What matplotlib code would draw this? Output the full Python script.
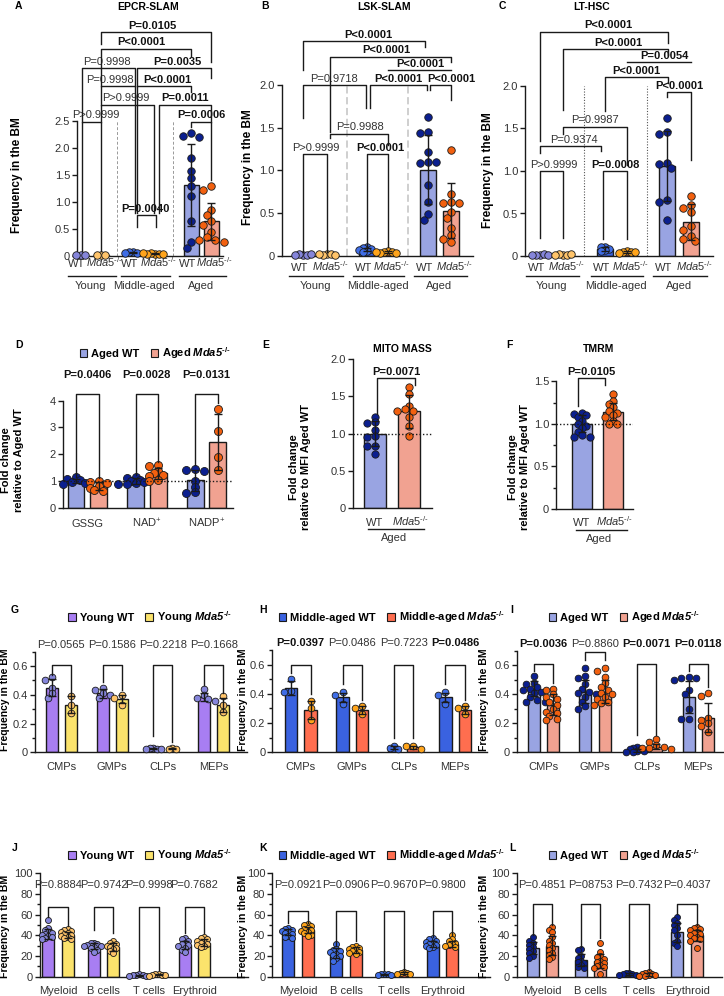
import numpy as np
import matplotlib
matplotlib.use('Agg')
import matplotlib.pyplot as plt
from matplotlib.patches import Patch
from matplotlib.ticker import MultipleLocator

plt.rcParams['font.family'] = 'Liberation Sans'
plt.rcParams['mathtext.fontset'] = 'custom'
plt.rcParams['mathtext.rm'] = 'Liberation Sans'
plt.rcParams['mathtext.it'] = 'Liberation Sans:italic'
plt.rcParams['mathtext.bf'] = 'Liberation Sans:bold'
plt.rcParams['mathtext.bfit'] = 'Liberation Sans:italic:bold'

# ---------------- data ----------------
# A-C: order = Young WT, Young Mda5, Middle-aged WT, Middle-aged Mda5, Aged WT, Aged Mda5
a_means = [0.01, 0.01, 0.06, 0.04, 1.31, 0.64]
a_sd = [0, 0, 0.01, 0.01, 0.76, 0.35]
a_pts = [[0.01, 0.01, 0.02], [0.01, 0.02, 0.01], [0.08, 0.07, 0.05, 0.06],
         [0.04, 0.05, 0.04, 0.03, 0.04, 0.05],
         [2.28, 2.22, 2.20, 1.82, 1.58, 1.45, 1.30, 1.12, 0.65, 0.25, 0.15],
         [1.30, 1.22, 0.86, 0.75, 0.65, 0.58, 0.45, 0.35, 0.30, 0.30, 0.26]]
a_pvals = ['P>0.9999', 'P=0.0040', 'P=0.0006', 'P>0.9999', 'P=0.0011', 'P=0.9998',
           'P<0.0001', 'P=0.9998', 'P=0.0035', 'P<0.0001', 'P=0.0105']

b_means = [0.01, 0.015, 0.075, 0.05, 1.01, 0.53]
b_sd = [0, 0, 0.02, 0.01, 0.40, 0.32]
b_pts = [[0.01, 0.02, 0.01, 0.01, 0.02], [0.02, 0.01, 0.02, 0.02, 0.01],
         [0.10, 0.09, 0.08, 0.07, 0.06, 0.05], [0.06, 0.05, 0.05, 0.04, 0.04, 0.05],
         [1.62, 1.45, 1.44, 1.22, 1.10, 1.09, 1.10, 0.83, 0.63, 0.49, 0.42],
         [1.24, 0.72, 0.63, 0.62, 0.62, 0.52, 0.45, 0.33, 0.25, 0.20, 0.16]]
b_pvals = ['P>0.9999', 'P<0.0001', 'P=0.9988', 'P=0.9718', 'P<0.0001', 'P<0.0001',
           'P<0.0001', 'P<0.0001', 'P<0.0001']

c_means = [0.01, 0.01, 0.08, 0.05, 1.06, 0.40]
c_sd = [0, 0, 0.02, 0.01, 0.41, 0.21]
c_pts = [[0.01, 0.01, 0.02, 0.01, 0.01], [0.01, 0.02, 0.01, 0.01, 0.02],
         [0.11, 0.10, 0.08, 0.07, 0.06], [0.06, 0.05, 0.05, 0.04, 0.05],
         [1.62, 1.46, 1.44, 1.09, 1.08, 1.03, 0.66, 0.64, 0.42],
         [0.70, 0.60, 0.56, 0.52, 0.35, 0.30, 0.24, 0.20, 0.18]]
c_pvals = ['P>0.9999', 'P=0.0008', 'P=0.9374', 'P=0.9987', 'P<0.0001', 'P<0.0001',
           'P=0.0054', 'P<0.0001', 'P<0.0001']

# D: GSSG, NAD+, NADP+ (WT, Mda5 alternating)
d_means = [1.0, 0.81, 1.0, 1.28, 1.02, 2.46]
d_sd = [0.09, 0.15, 0.1, 0.22, 0.38, 1.05]
d_pts = [[1.15, 1.08, 1.02, 0.96, 0.92, 0.90],
         [0.98, 0.95, 0.92, 0.80, 0.75, 0.65, 0.62],
         [1.15, 1.10, 1.05, 1.00, 0.95, 0.92, 0.90, 0.88],
         [1.58, 1.55, 1.38, 1.28, 1.22, 1.18, 1.05, 0.98],
         [1.45, 1.40, 1.38, 1.00, 0.78, 0.58, 0.55],
         [3.70, 2.85, 1.90, 1.40]]
d_pvals = ['P=0.0406', 'P=0.0028', 'P=0.0131']

e_means = [1.0, 1.30]
e_sd = [0.17, 0.22]
e_pts = [[1.23, 1.16, 1.15, 1.05, 0.97, 0.95, 0.84, 0.83, 0.73],
         [1.62, 1.53, 1.37, 1.33, 1.30, 1.30, 1.22, 1.10, 0.97]]

f_means = [1.0, 1.14]
f_sd = [0.10, 0.10]
f_pts = [[1.13, 1.12, 1.10, 1.08, 1.03, 1.00, 0.98, 0.95, 0.90, 0.87, 0.85, 0.85],
         [1.35, 1.27, 1.23, 1.20, 1.15, 1.13, 1.10, 1.08, 1.03, 1.00, 1.00]]

prog_cells = ['CMPs', 'GMPs', 'CLPs', 'MEPs']
g_wt_means = [0.45, 0.41, 0.025, 0.385]
g_wt_sd = [0.06, 0.03, 0.005, 0.03]
g_mda_means = [0.33, 0.37, 0.025, 0.33]
g_mda_sd = [0.06, 0.03, 0.005, 0.05]
g_wt_pts = [[0.52, 0.50, 0.45, 0.41, 0.38], [0.45, 0.43, 0.41, 0.40, 0.38],
            [0.03, 0.03, 0.025, 0.02, 0.02], [0.44, 0.40, 0.38, 0.37, 0.36]]
g_mda_pts = [[0.39, 0.33, 0.27], [0.40, 0.38, 0.33], [0.03, 0.025, 0.02], [0.39, 0.33, 0.28]]
g_pvals = ['P=0.0565', 'P=0.1586', 'P=0.2218', 'P=0.1668']
g_bold = [False, False, False, False]

h_wt_means = [0.44, 0.375, 0.03, 0.375]
h_wt_sd = [0.05, 0.03, 0.01, 0.03]
h_mda_means = [0.29, 0.29, 0.035, 0.29]
h_mda_sd = [0.06, 0.03, 0.01, 0.03]
h_wt_pts = [[0.50, 0.42, 0.41], [0.41, 0.39, 0.33], [0.04, 0.03, 0.02], [0.41, 0.39, 0.33]]
h_mda_pts = [[0.35, 0.30, 0.22], [0.32, 0.30, 0.26], [0.045, 0.04, 0.025], [0.32, 0.30, 0.26]]
h_pvals = ['P=0.0397', 'P=0.0486', 'P=0.7223', 'P=0.0486']
h_bold = [True, False, False, True]

i_wt_means = [0.44, 0.42, 0.015, 0.38]
i_wt_sd = [0.05, 0.08, 0.01, 0.11]
i_mda_means = [0.33, 0.42, 0.04, 0.24]
i_mda_sd = [0.07, 0.08, 0.02, 0.10]
i_wt_pts = [[0.53, 0.48, 0.47, 0.45, 0.44, 0.43, 0.42, 0.41, 0.38, 0.36, 0.35, 0.35],
            [0.58, 0.53, 0.51, 0.47, 0.44, 0.42, 0.41, 0.40, 0.38, 0.35, 0.32, 0.30],
            [0.04, 0.03, 0.02, 0.02, 0.01, 0.01, 0.005, 0.005],
            [0.52, 0.51, 0.51, 0.50, 0.43, 0.40, 0.30, 0.23, 0.23]]
i_mda_pts = [[0.44, 0.43, 0.40, 0.38, 0.37, 0.35, 0.33, 0.30, 0.28, 0.27, 0.25, 0.23, 0.22],
             [0.58, 0.56, 0.52, 0.48, 0.45, 0.43, 0.41, 0.40, 0.38, 0.37, 0.35, 0.34, 0.33],
             [0.09, 0.07, 0.05, 0.04, 0.03, 0.03, 0.02],
             [0.41, 0.39, 0.24, 0.22, 0.20, 0.18, 0.14]]
i_pvals = ['P=0.0036', 'P=0.8860', 'P=0.0071', 'P=0.0118']
i_bold = [True, False, True, True]

lin_cells = ['Myeloid', 'B cells', 'T cells', 'Erythroid']
j_wt_means = [41, 30, 1.5, 31]
j_wt_sd = [5, 3, 0.5, 4]
j_mda_means = [40, 29, 1.8, 33]
j_mda_sd = [3, 4, 0.5, 3]
j_wt_pts = [[55, 47, 45, 43, 42, 41, 40, 39, 38, 37, 36], [33, 33, 32, 31, 30, 30, 29, 28, 26, 24],
            [2.5, 2, 1.5, 1.5, 1, 1], [37, 36, 35, 33, 32, 31, 30, 28, 26, 24]]
j_mda_pts = [[46, 45, 44, 43, 42, 41, 40, 39, 38, 37, 36], [35, 33, 32, 31, 30, 29, 28, 27, 25, 23],
             [2.5, 2.2, 2, 1.5, 1.5, 1], [38, 37, 36, 35, 34, 33, 32, 31, 30, 29]]
j_pvals = ['P=0.8884', 'P=0.9742', 'P=0.9998', 'P=0.7682']

k_wt_means = [43, 23, 2.5, 32]
k_wt_sd = [3, 5, 0.5, 3]
k_mda_means = [45, 26, 3.5, 32]
k_mda_sd = [3, 3, 1, 3]
k_wt_pts = [[47, 46, 45, 44, 43, 42, 41, 39, 38, 37], [32, 27, 26, 25, 24, 22, 21, 20, 18, 15],
            [3, 3, 2.5, 2, 2], [37, 36, 35, 34, 33, 32, 31, 30, 29, 28]]
k_mda_pts = [[51, 50, 49, 47, 46, 45, 44, 43, 42, 40, 39], [30, 29, 28, 27, 26, 25, 24, 23, 22],
             [5, 4, 3.5, 3, 2.5], [40, 36, 35, 33, 32, 31, 30, 29]]
k_pvals = ['P=0.0921', 'P=0.0906', 'P=0.9670', 'P=0.9800']

l_wt_means = [28, 16, 2.5, 43]
l_wt_sd = [6, 6, 1, 9]
l_mda_means = [30, 15, 2.5, 40]
l_mda_sd = [9, 7, 1.5, 5]
l_wt_pts = [[38, 35, 33, 31, 29, 27, 25, 23, 20, 18], [27, 26, 20, 18, 15, 14, 13, 11, 9, 8],
            [4, 3.5, 3, 2.5, 2, 1.5, 1], [58, 55, 52, 50, 47, 45, 40, 35, 33, 30]]
l_mda_pts = [[48, 45, 43, 38, 35, 33, 31, 28, 26, 23, 21, 19, 17],
             [33, 24, 20, 19, 17, 15, 14, 13, 11, 10, 9, 8, 3],
             [5, 4, 3, 2.5, 2, 1.5, 1, 0.5], [48, 47, 46, 45, 43, 42, 41, 40, 38, 37, 36, 35, 28]]
l_pvals = ['P=0.4851', 'P=08753', 'P=0.7432', 'P=0.4037']

# ---------------- style ----------------
W, H = 724, 996
INK = '#1a1a1a'
GREY = '#333333'
YOUNG = ('#a87ef2', '#8585da', '#fbe36c', '#ffc46a')   # wt bar, wt dot, ko bar, ko dot
MID = ('#3a62e0', '#3f6de6', '#ff6e4f', '#ffa41b')
AGED = ('#99a4e2', '#0b1f8f', '#f1a291', '#f2600f')
MDA = '$\\mathit{Mda5}^{\u2010/\u2010}$'
MDA_B = '$\\mathbfit{Mda5}^{\\mathbf{\u2010/\u2010}}$'

fig = plt.figure(figsize=(W / 100, H / 100), dpi=100)


def ftext(x, y, s, **kw):
    kw.setdefault('ha', 'center')
    kw.setdefault('va', 'center')
    return fig.text(x / W, 1 - y / H, s, **kw)


def add_ax(x0, x1, ytop, yzero, xlim, ylim):
    ax = fig.add_axes([x0 / W, 1 - yzero / H, (x1 - x0) / W, (yzero - ytop) / H])
    ax.set_xlim(*xlim)
    ax.set_ylim(*ylim)
    ax.patch.set_alpha(0)
    for s in ['top', 'right']:
        ax.spines[s].set_visible(False)
    for s in ['left', 'bottom']:
        ax.spines[s].set_linewidth(1)
        ax.spines[s].set_color(INK)
    ax.tick_params(axis='y', which='major', length=3.5, width=1, color=INK,
                   labelsize=8, labelcolor=GREY, pad=1.5)
    ax.tick_params(axis='y', which='minor', length=2, width=1, color=INK)
    ax.tick_params(axis='x', length=0, labelsize=8, labelcolor=GREY)
    return ax


def xlabels(ax, ticks, labels, base_px):
    # base_px = distance of the label baseline below the axis line
    ax.set_xticks(ticks, labels)
    ax.tick_params(axis='x', pad=base_px * 0.72)
    for t in ax.get_xticklabels():
        t.set_va('baseline')


def swarm(ax, vals, diam, sep):
    (xa, xb), (ya, yb) = ax.get_xlim(), ax.get_ylim()
    bb = ax.get_position()
    sx = bb.width * W / (xb - xa)
    sy = bb.height * H / (yb - ya)
    placed, offs = [], []
    for v in vals:
        y = v * sy
        x = 0
        for k in [0, -1, 1, -2, 2, -3, 3, -4, 4, -5, 5]:
            x = k * diam * 0.55
            if all((x - px) ** 2 + (y - py) ** 2 >= (sep * diam) ** 2 for px, py in placed):
                break
        placed.append((x, y))
        offs.append(x / sx)
    return np.array(offs)


def group(ax, x, m, sd, pts, bar_c, dot_c, width, diam, sep=None):
    ax.bar(x, m, width, color=bar_c, edgecolor=INK, linewidth=1, zorder=2)
    if sep is None:
        sep = 0.45 if m < 0.05 * ax.get_ylim()[1] else 0.8
    offs = swarm(ax, pts, diam, sep)
    ax.scatter(x + offs, pts, s=(diam * 0.72) ** 2, color=dot_c, edgecolor=INK,
               linewidth=0.6, zorder=3, clip_on=False)
    if sd > 0:
        ax.errorbar(x, m, yerr=sd, fmt='none', ecolor=INK, elinewidth=1,
                    capsize=3, capthick=1, zorder=4)


def bracket(ax, x1, x2, top, l1, l2, txt=None, bold=False, tx=None):
    ax.plot([x1, x1, x2, x2], [l1, top, top, l2], color=INK, lw=1,
            clip_on=False, zorder=5)
    if txt:
        ax.annotate(txt, ((x1 + x2) / 2 if tx is None else tx, top), xytext=(0, 1),
                    textcoords='offset points', ha='center', va='bottom', fontsize=8,
                    fontweight='bold' if bold else 'normal',
                    color='#111' if bold else GREY, annotation_clip=False)


def legend_row(x, y, colors, labels):
    handles = [Patch(facecolor=c, edgecolor=INK, linewidth=0.8) for c in colors]
    fig.legend(handles, labels, loc='center left', bbox_to_anchor=(x / W, 1 - y / H),
               ncol=2, frameon=False, prop={'weight': 'bold', 'size': 8},
               handlelength=0.7, handleheight=0.7, handletextpad=0.35,
               columnspacing=1.0, borderpad=0, borderaxespad=0)


# ---------------- A-C ----------------
def abc_panel(ax, pos, means, sds, pts, brs, pvals, base_px, sep_kw, lab_shift):
    cols = [YOUNG[:2], YOUNG[2:], MID[:2], MID[2:], AGED[:2], AGED[2:]]
    for x, m, s, p, (bc, dc) in zip(pos, means, sds, pts, cols):
        group(ax, x, m, s, p, bc, dc, 0.72, 7.5)
    for sx in [(pos[1] + pos[2]) / 2, (pos[3] + pos[4]) / 2]:
        ax.plot([sx, sx], [0, ax.get_ylim()[1]], zorder=1, **sep_kw)
    for (x1, x2, top, l1, l2, bold, tx), p in zip(brs, pvals):
        bracket(ax, x1, x2, top, l1, l2, p, bold, tx)
    ticks = [p - lab_shift if i % 2 == 0 else p + lab_shift for i, p in enumerate(pos)]
    xlabels(ax, ticks, ['WT', MDA] * 3, base_px)
    tr = ax.get_xaxis_transform()
    h = ax.get_position().height * H
    for g, name in enumerate(['Young', 'Middle-aged', 'Aged']):
        a, b = pos[2 * g], pos[2 * g + 1]
        ax.plot([a - 0.6, b + 0.7], [-20 / h] * 2, transform=tr, color=INK, lw=1, clip_on=False)
        ax.text((a + b) / 2, -30 / h, name, transform=tr, ha='center', va='center',
                fontsize=8, color=GREY)


pos_A = [0, 1, 2.56, 3.62, 5.36, 6.33]
axA = add_ax(77, 223, 121, 256, (-0.145, 6.9), (0, 2.5))
axA.set_yticks([0, 0.5, 1, 1.5, 2, 2.5], ['0', '0.5', '1.0', '1.5', '2.0', '2.5'])
brA = [(0.05, 1.0, 2.49, 0.1, 0.1, False, 0.72), (2.74, 3.67, 0.76, 0.54, 0.54, True, 3.14),
       (5.36, 6.33, 2.49, 2.39, 1.40, True, 5.83), (1.0, 3.54, 2.80, 2.49, 0.79, False, 2.21),
       (3.78, 6.33, 2.80, 0.79, 2.49, True, 5.07), (1.0, 2.62, 3.14, 2.80, 0.79, False, 1.42),
       (2.74, 5.36, 3.14, 0.79, 3.04, True, 4.22), (0.05, 2.62, 3.48, 2.49, 3.14, False, 1.30),
       (2.74, 6.33, 3.48, 3.14, 3.30, True, 4.70), (1.0, 5.36, 3.84, 3.14, 3.71, True, 2.93),
       (1.0, 6.33, 4.14, 3.93, 3.59, True, 3.49)]
abc_panel(axA, pos_A, a_means, a_sd, a_pts, brA, a_pvals, 11,
          dict(color='#999999', lw=0.7, ls=(0, (3, 2))), 0.17)

pos_B = [0, 1.04, 2.78, 3.7, 5.43, 6.43]
axB = add_ax(281.7, 473, 85, 256, (-0.93, 7.39), (0, 2.0))
axB.set_yticks([0, 0.5, 1, 1.5, 2], ['0', '0.5', '1.0', '1.5', '2.0'])
brB = [(0.01, 1.06, 1.19, 0.05, 0.05, False, 0.55), (2.77, 3.71, 1.19, 0.11, 0.11, True, 3.35),
       (1.17, 3.71, 1.43, 1.38, 1.30, False, 2.48), (0.01, 2.74, 2.0, 1.61, 1.73, False, 1.36),
       (2.91, 5.38, 2.0, 1.73, 1.94, True, 4.14), (5.52, 6.43, 2.0, 1.94, 1.82, True, 6.45),
       (3.71, 6.43, 2.17, 2.17, 2.17, True, 5.09), (1.17, 6.43, 2.33, 1.45, 2.27, True, 3.64),
       (0.01, 5.30, 2.51, 2.18, 2.45, True, 2.84)]
abc_panel(axB, pos_B, b_means, b_sd, b_pts, brB, b_pvals, 15,
          dict(color='#cccccc', lw=1.3, ls=(0, (4, 2))), 0.16)

pos_C = [0, 1.0, 2.83, 3.78, 5.52, 6.57]
axC = add_ax(525, 713, 86, 256, (-0.65, 7.52), (0, 2.0))
axC.set_yticks([0, 0.5, 1, 1.5, 2], ['0', '0.5', '1.0', '1.5', '2.0'])
brC = [(0, 1.01, 1.0, 0.21, 0.21, False, 0.61), (2.75, 3.77, 1.0, 0.2, 0.2, True, 3.26),
       (0, 2.65, 1.29, 1.21, 1.23, False, 1.48), (1.01, 3.77, 1.52, 1.44, 1.07, False, 2.39),
       (2.83, 5.55, 2.10, 1.70, 2.03, True, 4.17), (5.51, 6.57, 1.93, 1.87, 1.13, True, 6.04),
       (3.77, 6.57, 2.28, 2.28, 2.28, True, 5.43), (1.01, 5.55, 2.43, 1.72, 2.36, True, 3.41),
       (0, 5.55, 2.64, 1.35, 2.50, True, 2.97)]
abc_panel(axC, pos_C, c_means, c_sd, c_pts, brC, c_pvals, 15,
          dict(color='#555555', lw=0.8, ls=(0, (1, 1.5))), 0.16)

for x, y, s in [(18, 6, 'A'), (265, 6, 'B'), (502, 6, 'C')]:
    ftext(x, y, s, fontsize=7.5, fontweight='bold')
for x, y, s in [(148, 7, 'EPCR-SLAM'), (384, 7, 'LSK-SLAM'), (592, 7, 'LT-HSC')]:
    ftext(x, y, s, fontsize=7.5, fontweight='bold')
for x, y in [(17, 175), (248, 167), (488, 170)]:
    ftext(x, y, 'Frequency in the BM', rotation=90, fontsize=8.5, fontweight='bold')

# ---------------- D ----------------
pos_D = [0, 1, 2.65, 3.65, 5.3, 6.3]
axD = add_ax(63, 233, 400.7, 507.7, (-0.58, 6.98), (0, 4))
axD.set_yticks([0, 1, 2, 3, 4])
axD.axhline(1, color=INK, lw=1, ls=(0, (1, 1.5)), zorder=4)
for i in range(6):
    bc, dc = (AGED[0], AGED[1]) if i % 2 == 0 else (AGED[2], AGED[3])
    group(axD, pos_D[i], d_means[i], d_sd[i], d_pts[i], bc, dc, 0.75, 8, 0.6)
legs_D = [(1.16, 1.10), (1.22, 1.72), (1.60, 3.90)]
for g in range(3):
    bracket(axD, pos_D[2 * g], pos_D[2 * g + 1], 4.25, *legs_D[g])
    axD.text((pos_D[2 * g] + pos_D[2 * g + 1]) / 2, 4.96, d_pvals[g], ha='center',
             va='center', fontsize=8, fontweight='bold', color='#111', clip_on=False)
xlabels(axD, [(pos_D[2 * g] + pos_D[2 * g + 1]) / 2 for g in range(3)],
        ['GSSG', r'NAD$^{+}$', r'NADP$^{+}$'], 19.5)
legend_row(79.5, 352.7, [AGED[0], AGED[2]], ['Aged WT', 'Aged ' + MDA_B])
ftext(19.5, 345, 'D', fontsize=7.5, fontweight='bold')
ftext(12.5, 460, 'Fold change\nrelative to Aged WT', rotation=90, fontsize=8,
      fontweight='bold', linespacing=1.35)


# ---------------- E, F ----------------
def ef_panel(ax, means, sds, pts, base_px):
    group(ax, 0, means[0], sds[0], pts[0], AGED[0], AGED[1], 0.65, 7.3, 0.65)
    group(ax, 1, means[1], sds[1], pts[1], AGED[2], AGED[3], 0.65, 7.3, 0.65)
    ax.axhline(1, color=INK, lw=1, ls=(0, (1, 1.5)), zorder=4)
    xlabels(ax, [0, 1.04], ['WT', MDA], base_px)
    tr = ax.get_xaxis_transform()
    h = ax.get_position().height * H
    ax.plot([-0.2, 1.45], [-21 / h] * 2, transform=tr, color=INK, lw=1, clip_on=False)
    ax.text(0.55, -30 / h, 'Aged', transform=tr, ha='center', va='center',
            fontsize=8, color=GREY)


axE = add_ax(352.7, 431.7, 359.1, 508.3, (-0.66, 1.67), (0, 2.0))
axE.set_yticks([0, 0.5, 1, 1.5, 2], ['0', '0.5', '1.0', '1.5', '2.0'])
ef_panel(axE, e_means, e_sd, e_pts, 17.5)
bracket(axE, 0.05, 1.18, 1.74, 1.27, 1.65, 'P=0.0071', True)
ftext(266, 345, 'E', fontsize=7.5, fontweight='bold')
ftext(402, 349, 'MITO MASS', fontsize=7.5, fontweight='bold')
ftext(300, 467, 'Fold change\nrelative to MFI Aged WT', rotation=90, fontsize=8,
      fontweight='bold', linespacing=1.35)

axF = add_ax(556, 633, 381.3, 509, (-0.84, 1.65), (0, 1.5))
axF.set_yticks([0, 0.5, 1, 1.5], ['0', '0.5', '1.0', '1.5'])
axF.yaxis.set_minor_locator(MultipleLocator(0.25))
ef_panel(axF, f_means, f_sd, f_pts, 17.5)
bracket(axF, -0.12, 0.74, 1.535, 1.21, 1.46, 'P=0.0105', True)
ftext(509, 345, 'F', fontsize=7.5, fontweight='bold')
ftext(599, 349, 'TMRM', fontsize=7.5, fontweight='bold')
ftext(519, 467, 'Fold change\nrelative to MFI Aged WT', rotation=90, fontsize=8,
      fontweight='bold', linespacing=1.35)


# ---------------- G-L ----------------
def pair_panel(ax, sp, cols, wm, ws, wp, km, ks, kp, top, legs, pvals, bold, p_y,
               cats, diam, sep=None):
    centers = [g * sp for g in range(4)]
    for g, c in enumerate(centers):
        group(ax, c - 0.5, wm[g], ws[g], wp[g], cols[0], cols[1], 0.62, diam, sep)
        group(ax, c + 0.5, km[g], ks[g], kp[g], cols[2], cols[3], 0.62, diam, sep)
        t = top[g] if np.ndim(top) else top
        bracket(ax, c - 0.5, c + 0.5, t, *legs[g])
        ax.text(c, p_y, pvals[g], ha='center', va='center', fontsize=8,
                fontweight='bold' if bold[g] else 'normal',
                color='#111' if bold[g] else GREY, clip_on=False)
    xlabels(ax, centers, cats, 17.5)


def prog_axes(x0, x1, top, xlim):
    ax = add_ax(x0, x1, top, 752.3, xlim, (0, 0.7))
    ax.set_yticks([0, 0.2, 0.4, 0.6], ['0', '0.2', '0.4', '0.6'])
    ax.set_yticks([0.1, 0.3, 0.5, 0.7], minor=True)
    return ax


def lin_axes(x0, x1, xlim):
    ax = add_ax(x0, x1, 873.3, 976.7, xlim, (0, 100))
    ax.set_yticks([0, 20, 40, 60, 80, 100])
    ax.yaxis.set_minor_locator(MultipleLocator(10))
    return ax


axG = prog_axes(35, 247, 651.6, (-1.39, 9.76))
pair_panel(axG, 2.67, YOUNG, g_wt_means, g_wt_sd, g_wt_pts, g_mda_means, g_mda_sd, g_mda_pts,
           0.61, [(0.54, 0.40), (0.49, 0.43), (0.11, 0.07), (0.47, 0.41)],
           g_pvals, g_bold, 0.746, prog_cells, 6.7)
axH = prog_axes(272.3, 487, 650, (-1.46, 9.55))
pair_panel(axH, 2.64, MID, h_wt_means, h_wt_sd, h_wt_pts, h_mda_means, h_mda_sd, h_mda_pts,
           0.60, [(0.545, 0.40), (0.47, 0.36), (0.10, 0.10), (0.47, 0.36)],
           h_pvals, h_bold, 0.746, prog_cells, 6.7)
axI = prog_axes(516.7, 724, 651, (-1.39, 9.41))
pair_panel(axI, 2.69, AGED, i_wt_means, i_wt_sd, i_wt_pts, i_mda_means, i_mda_sd, i_mda_pts,
           [0.61, 0.69, 0.61, 0.61], [(0.56, 0.48), (0.64, 0.64), (0.12, 0.12), (0.56, 0.45)],
           i_pvals, i_bold, 0.746, prog_cells, 6.7)

axJ = lin_axes(40, 248, (-0.94, 9.9))
pair_panel(axJ, 2.37, YOUNG, j_wt_means, j_wt_sd, j_wt_pts, j_mda_means, j_mda_sd, j_mda_pts,
           67.5, [(58, 49), (45, 42), (6.5, 6.5), (42, 42)],
           j_pvals, [False] * 4, 89, lin_cells, 6, 0.55)
axK = lin_axes(272.3, 490, (-1.32, 9.9))
pair_panel(axK, 2.48, MID, k_wt_means, k_wt_sd, k_wt_pts, k_mda_means, k_mda_sd, k_mda_pts,
           63.5, [(52, 52), (30, 35), (6, 6), (38, 40)],
           k_pvals, [False] * 4, 89, lin_cells, 6, 0.55)
axL = lin_axes(516.7, 722, (-1.32, 9.2))
pair_panel(axL, 2.47, AGED, l_wt_means, l_wt_sd, l_wt_pts, l_mda_means, l_mda_sd, l_mda_pts,
           70, [(40, 50), (29, 37), (6.5, 6.5), (61, 50)],
           l_pvals, [False] * 4, 89, lin_cells, 6, 0.55)

for y, row in [(617, 'GHI'), (855, 'JKL')]:
    legend_row(68, y, [YOUNG[0], YOUNG[2]], ['Young WT', 'Young ' + MDA_B])
    legend_row(278.5, y, [MID[0], MID[2]], ['Middle-aged WT', 'Middle-aged ' + MDA_B])
    legend_row(548.5, y, [AGED[0], AGED[2]], ['Aged WT', 'Aged ' + MDA_B])
    for x, s in zip([15, 263, 512], row):
        ftext(x, y - 7, s, fontsize=7.5, fontweight='bold')
for x in [5, 243, 484]:
    ftext(x, 700, 'Frequency in the BM', rotation=90, fontsize=7.5, fontweight='bold')
    ftext(x, 926, 'Frequency in the BM', rotation=90, fontsize=7.6, fontweight='bold')

fig.savefig('out.png', dpi=100)
